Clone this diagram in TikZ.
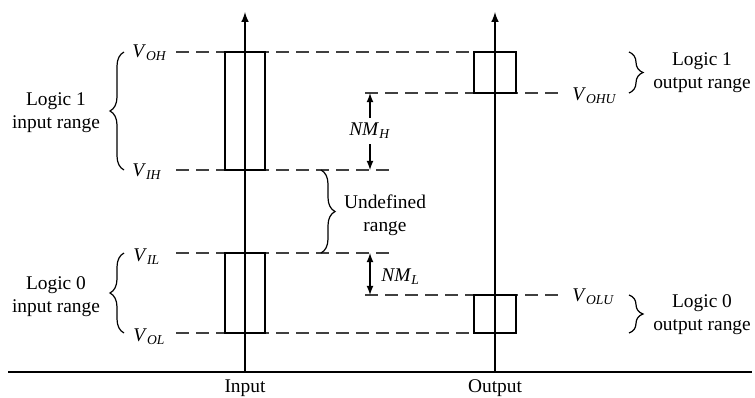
\documentclass[tikz,border=0pt]{standalone}
\usepackage{fontspec}
\setmainfont{Liberation Serif}
\usetikzlibrary{arrows, positioning, decorations.pathreplacing}

\newcommand{\lvl}[1]{\textit{V}\textsubscript{\textit{#1}}}

\begin{document}
\begin{tikzpicture}[x=0.5pt, y=-0.5pt,
        level/.style={draw, dash pattern=on 6.5pt off 3.5pt, line width=0.6pt, black!75},
        axis/.style={draw, -latex, line width=0.7pt},
        band/.style={draw, line width=0.7pt},
        brc/.style={decorate, decoration={brace, amplitude=7pt}, line width=0.6pt},
        lbl/.style={font=\fontsize{9.7}{11.6}\selectfont, inner sep=0pt},
        note/.style={font=\fontsize{9.7}{11.6}\selectfont, align=center, inner sep=0pt},
        line/.style={draw, -latex, line width=0.6pt}
    ]
    \useasboundingbox (0,0) rectangle (755,397);

    % Axes
    \coordinate (base-l) at (8,372);
    \coordinate (base-r) at (752,372);
    \coordinate (in-b) at (245,372);
    \coordinate (in-t) at (245,12);
    \coordinate (out-b) at (495,372);
    \coordinate (out-t) at (495,12);
    \draw[line width=0.7pt] (base-l) -- (base-r);
    \path[axis] (in-b) -- (in-t);
    \path[axis] (out-b) -- (out-t);
    \node[lbl, anchor=base] (input) at (245,392) {Input};
    \node[lbl, anchor=base] (output) at (495,392) {Output};

    % Levels
    \coordinate (voh-l) at (176,52);   \coordinate (voh-r) at (474,52);
    \coordinate (vih-l) at (176,170);  \coordinate (vih-r) at (393,170);
    \coordinate (vil-l) at (176,253);  \coordinate (vil-r) at (392,253);
    \coordinate (vol-l) at (176,333);  \coordinate (vol-r) at (474,333);
    \coordinate (vohu-l) at (365,93);  \coordinate (vohu-r) at (562,93);
    \coordinate (volu-l) at (365,295); \coordinate (volu-r) at (562,295);
    \path[level] (voh-l) -- (voh-r);
    \path[level] (vih-l) -- (vih-r);
    \path[level] (vil-l) -- (vil-r);
    \path[level] (vol-l) -- (vol-r);
    \path[level] (vohu-l) -- (vohu-r);
    \path[level] (volu-l) -- (volu-r);

    % Ranges
    \draw[band] (225,52) rectangle (265,170);
    \draw[band] (225,253) rectangle (265,333);
    \draw[band] (474,52) rectangle (516,93);
    \draw[band] (474,295) rectangle (516,333);

    \node[lbl, anchor=base west] (voh) at (132,57) {\lvl{OH}};
    \node[lbl, anchor=base west] (vih) at (132,176) {\lvl{IH}};
    \node[lbl, anchor=base west] (vil) at (133,261) {\lvl{IL}};
    \node[lbl, anchor=base west] (vol) at (133,341) {\lvl{OL}};
    \node[lbl, anchor=base west] (vohu) at (572,100) {\lvl{OHU}};
    \node[lbl, anchor=base west] (volu) at (572,301) {\lvl{OLU}};

    % Braces
    \draw[brc] (124,170) -- (124,52);
    \draw[brc] (124,333) -- (124,253);
    \draw[brc] (321,170) -- (321,253);
    \draw[brc] (629,52) -- (629,93);
    \draw[brc] (629,295) -- (629,333);

    \node[note] (in1) at (56,113) {Logic 1\\input range};
    \node[note] (in0) at (56,297) {Logic 0\\input range};
    \node[note] (undef) at (385,215) {Undefined\\range};
    \node[note] (out1) at (702,73) {Logic 1\\output range};
    \node[note] (out0) at (702,315) {Logic 0\\output range};

    % Noise margins
    \coordinate (nmh-t) at (370,93);
    \coordinate (nmh-b) at (370,170);
    \coordinate (nml-t) at (370,253);
    \coordinate (nml-b) at (370,295);
    \node[lbl, inner sep=2.5pt] (nmh) at (370,131) {\textit{NM}\textsubscript{\textit{H}}};
    \path[line] (nmh) -- (nmh-t);
    \path[line] (nmh) -- (nmh-b);
    \draw[latex-latex, line width=0.6pt] (nml-t) -- (nml-b);
    \node[lbl, anchor=base west] (nml) at (381,281) {\textit{NM}\textsubscript{\textit{L}}};

\end{tikzpicture}
\end{document}
